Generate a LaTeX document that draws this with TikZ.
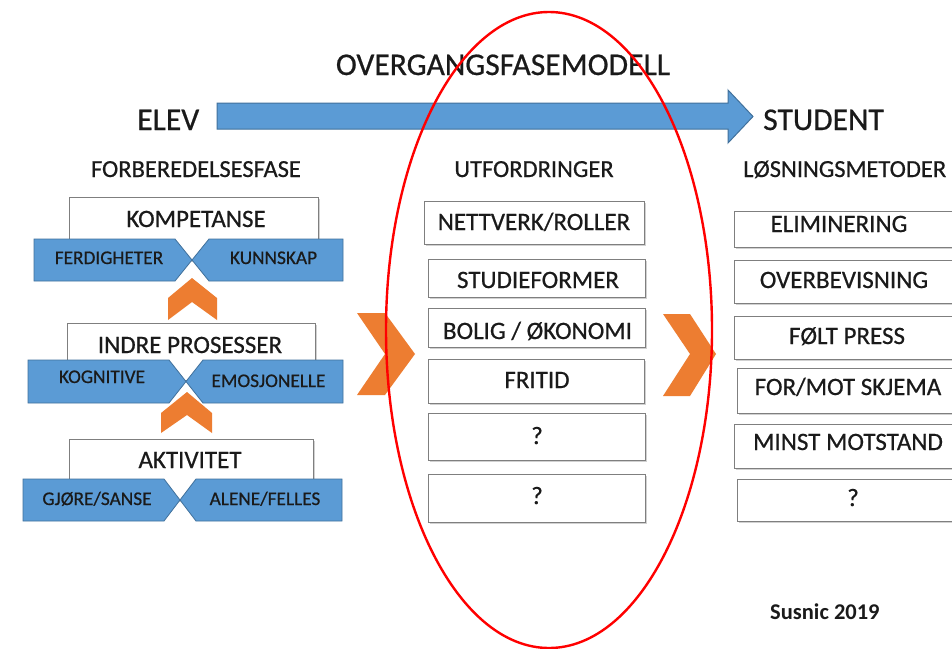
\documentclass[tikz,border=0pt]{standalone}
\usepackage{fontspec}
\setmainfont[FakeBold=0.6]{Carlito}
\newfontfamily\creditfont{Carlito}
\definecolor{ink}{HTML}{1A1A1A}
\definecolor{blueF}{HTML}{5B9BD5}
\definecolor{blueD}{HTML}{41719C}
\definecolor{orangeF}{HTML}{ED7D31}
\definecolor{boxgray}{HTML}{7F7F7F}
\begin{document}
\begin{tikzpicture}[x=1pt,y=-1pt,
  txt/.style={text=ink, inner sep=0pt, anchor=base},
  big/.style={txt, font=\fontsize{31.6}{36}\selectfont},
  head/.style={txt, font=\fontsize{24.5}{28}\selectfont},
  lab/.style={txt, font=\fontsize{25}{28}\selectfont},
  small/.style={txt, font=\fontsize{19.3}{22}\selectfont},
  box/.style={draw=boxgray, line width=1.3pt, fill=white, inner sep=0pt, anchor=north west,
    preaction={fill=black!18, transform canvas={shift={(1.3pt,-1.3pt)}}}},
  band/.style={fill=blueF, draw=blueD, line width=0.8pt, line join=miter},
  chev/.style={fill=orangeF},
]
\useasboundingbox[fill=white] (0,0) rectangle (952,648);

% title and the ELEV -> STUDENT arrow
\node[big] (title) at (503,75) {OVERGANGSFASEMODELL};
\node[big, anchor=base west] (elev) at (137,130) {ELEV};
\node[big, anchor=base west] (student) at (763,130) {STUDENT};
\draw[band, line width=1pt] (217,103) -- (728,103) -- (728,90) -- (753,116.5)
  -- (728,143) -- (728,129) -- (217,129) -- cycle;

% column headings
\node[head] (hforb) at (196,177) {FORBEREDELSESFASE};
\node[head] (hutf) at (534,177) {UTFORDRINGER};
\node[head, anchor=base west] (hlos) at (743,177) {LØSNINGSMETODER};

% left column: white boxes with blue split bands
\node[box, minimum width=249pt, minimum height=63pt] (kbox) at (69,197) {};
\node[box, minimum width=248pt, minimum height=57pt] (ibox) at (67,323) {};
\node[box, minimum width=244pt, minimum height=61pt] (abox) at (69,439) {};

% upward chevrons between the levels
\fill[chev] (168,320) -- (168,298) -- (192,278) -- (217,298) -- (217,320) -- (192,302) -- cycle;
\fill[chev] (161,433) -- (161,413) -- (187,392) -- (212,413) -- (212,433) -- (187,415) -- cycle;

% band 1
\draw[band] (34,239) -- (175,239) -- (192,260) -- (175,281) -- (34,281) -- cycle;
\draw[band] (209,239) -- (343,239) -- (343,281) -- (209,281) -- (192,260) -- cycle;
% band 2
\draw[band] (28,360) -- (169,360) -- (186,381.5) -- (169,403) -- (28,403) -- cycle;
\draw[band] (203,360) -- (343,360) -- (343,403) -- (203,403) -- (186,381.5) -- cycle;
% band 3
\draw[band] (23,479) -- (164,479) -- (180,500) -- (164,521) -- (23,521) -- cycle;
\draw[band] (196,479) -- (342,479) -- (342,521) -- (196,521) -- (180,500) -- cycle;

\node[lab] (komp) at (196,227) {KOMPETANSE};
\node[lab] (indre) at (190,353) {INDRE PROSESSER};
\node[lab] (akt) at (190,468) {AKTIVITET};
\node[small] (ferd) at (109,264) {FERDIGHETER};
\node[small] (kunn) at (273.5,264) {KUNNSKAP};
\node[small] (kogn) at (102,383) {KOGNITIVE};
\node[small] (emos) at (268.5,387) {EMOSJONELLE};
\node[small] (gjor) at (97,505) {GJØRE/SANSE};
\node[small] (alen) at (265,505) {ALENE/FELLES};

% big chevrons between the columns
\fill[chev] (357,313) -- (385,313) -- (415,354) -- (385,395) -- (357,395) -- (385,354) -- cycle;
\fill[chev] (663,314) -- (690,314) -- (716,354) -- (690,396) -- (663,396) -- (690,354) -- cycle;

% middle column
\node[box, minimum width=220pt, minimum height=43pt] (m1) at (424,201) {};
\node[box, minimum width=217pt, minimum height=38pt] (m2) at (428,259) {};
\node[box, minimum width=217pt, minimum height=39pt] (m3) at (428,308) {};
\node[box, minimum width=216pt, minimum height=44pt] (m4) at (428,359) {};
\node[box, minimum width=217pt, minimum height=47pt] (m5) at (428,413) {};
\node[box, minimum width=217pt, minimum height=48pt] (m6) at (428,474) {};
\node[lab] (m1t) at (534,230) {NETTVERK/ROLLER};
\node[lab] (m2t) at (538,288) {STUDIEFORMER};
\node[lab] (m3t) at (537.5,339) {BOLIG / ØKONOMI};
\node[lab] (m4t) at (537,388) {FRITID};
\node[lab] (m5t) at (537,444) {?};
\node[lab] (m6t) at (537,504) {?};

% right column
\node[box, minimum width=224pt, minimum height=36pt] (r1) at (734,211) {};
\node[box, minimum width=224pt, minimum height=43pt] (r2) at (734,260) {};
\node[box, minimum width=224pt, minimum height=43pt] (r3) at (734,316) {};
\node[box, minimum width=221pt, minimum height=45pt] (r4) at (737,368) {};
\node[box, minimum width=224pt, minimum height=44pt] (r5) at (734,424) {};
\node[box, minimum width=221pt, minimum height=42pt] (r6) at (737,479) {};
\node[lab] (r1t) at (839,232) {ELIMINERING};
\node[lab] (r2t) at (844,288) {OVERBEVISNING};
\node[lab] (r3t) at (847,344) {FØLT PRESS};
\node[lab] (r4t) at (848,395) {FOR/MOT SKJEMA};
\node[lab] (r5t) at (848,450) {MINST MOTSTAND};
\node[lab] (r6t) at (853,506) {?};

% credit
\node[txt, anchor=base west, font=\creditfont\fontsize{22.5}{26}\selectfont\bfseries] (credit) at (770,619) {Susnic 2019};

% red ring around the challenges
\draw[red, line width=2.4pt] (549,330) ellipse [x radius=163, y radius=318];
\end{tikzpicture}
\end{document}
